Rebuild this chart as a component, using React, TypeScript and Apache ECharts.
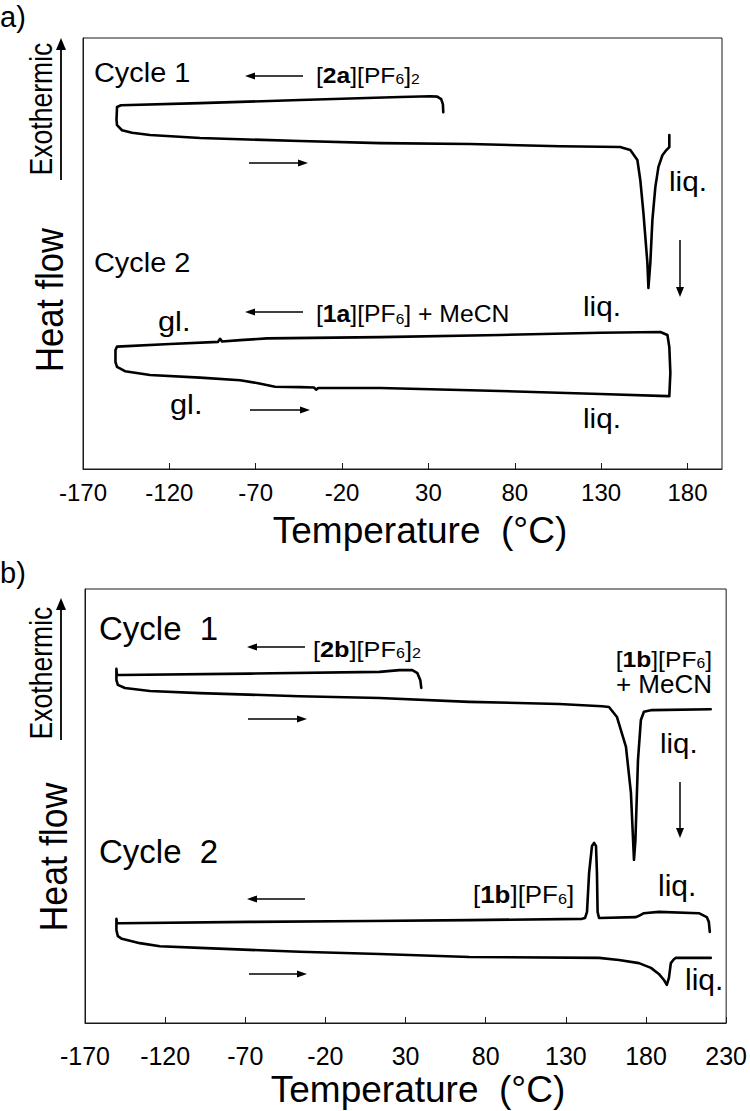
import React, { useEffect, useRef } from 'react';
import * as echarts from 'echarts';

const FONT = '"Liberation Sans", Arial, Helvetica, sans-serif';

// Temperature axes (°C)
const xRangeA = [-170, 200];
const xRangeB = [-170, 230];
const tickStep = 50;
// Heat flow (arbitrary units, exothermic up)
const yRange = [0, 100];

// Panel a) – cycle 1: cooling from ~38 °C to -150 °C, then heating to 170 °C
const cycle1A: number[][] = [
  [38.6, 82.8], [38.4, 84.6], [37.4, 85.8], [35.1, 86.4], [31.1, 86.5], [13.7, 86.3],
  [-44.3, 85.6], [-102.2, 84.9], [-148, 84.4], [-150.3, 84.0], [-150.6, 81.0], [-150.3, 79.8],
  [-147.4, 78.6], [-141.6, 78.0], [-131.2, 77.5], [-102.2, 76.8], [-44.3, 76.1], [2.1, 75.6],
  [54.2, 75.4], [106.4, 74.9], [141.1, 74.7], [142.9, 74.5], [146.9, 74.0], [151.0, 71.7],
  [152.7, 67.0], [154.5, 59.4], [156.8, 47.8], [157.4, 42.0], [158.5, 47.8], [159.7, 57.8],
  [161.4, 65.4], [163.2, 70.1], [165.5, 72.8], [167.8, 74.0], [169.5, 74.7], [169.5, 77.5],
];

// Panel a) – cycle 2: cooling from 170 °C to -150 °C (glass), heating back to 170 °C
const cycle2A: number[][] = [
  [169.5, 16.9], [170.1, 22.3], [169.5, 28.3], [168.4, 31.1], [164.3, 31.8], [129.6, 31.6],
  [71.6, 31.1], [2.1, 30.6], [-63.4, 30.3], [-79.0, 29.9], [-89.5, 29.6], [-90.6, 30.2],
  [-91.8, 29.5], [-119.6, 29.0], [-150.3, 28.4], [-151.2, 27.6], [-151.2, 24.8], [-150.3, 23.7],
  [-145.7, 22.7], [-131.2, 21.8], [-102.2, 21.2], [-79.0, 20.6], [-68.6, 19.9], [-58.8, 19.1],
  [-44.3, 19.0], [-36.2, 18.9], [-35.0, 18.4], [-33.8, 18.8], [2.1, 18.8], [71.6, 18.1],
  [129.6, 17.4], [168.4, 16.9], [169.5, 16.9],
];

// Panel b) – cycle 1: cooling from 40 °C to -150 °C, then heating to 220 °C
const cycle1B: number[][] = [
  [39.8, 77.2], [39.2, 79.0], [37.4, 80.6], [34.2, 81.3], [26.2, 81.3], [13.7, 80.9],
  [-67.3, 80.5], [-148.2, 80.2], [-150.1, 80.2], [-150.4, 81.6], [-150.4, 79.0], [-149.5, 77.9],
  [-145.1, 77.2], [-129.5, 76.5], [-98.4, 76.0], [-36.1, 75.3], [13.7, 74.9], [69.7, 74.0],
  [125.8, 73.5], [152.6, 73.0], [156.9, 72.8], [161.9, 70.5], [167.5, 63.6], [170.6, 53.0],
  [172.5, 37.6], [173.4, 42.2], [175.0, 60.6], [176.8, 69.8], [178.7, 71.7], [183.7, 72.1],
  [220.4, 72.3],
];

// Panel b) – cycle 2: cooling from 220 °C (crystallisation ~147 °C) to -150 °C, heating to 220 °C
const cycle2B: number[][] = [
  [219.8, 21.0], [219.2, 23.3], [217.9, 24.4], [213.0, 25.3], [188.0, 25.6], [178.7, 25.3],
  [175.6, 24.7], [173.7, 24.4], [150.7, 24.2], [149.8, 25.6], [149.4, 34.6], [148.8, 40.8],
  [147.6, 41.5], [146.3, 40.8], [144.5, 34.6], [143.2, 25.6], [142.0, 24.2], [140.1, 24.0],
  [69.7, 23.7], [7.5, 23.5], [-67.3, 23.3], [-148.2, 23.0], [-150.1, 23.0], [-150.4, 24.0],
  [-150.4, 21.4], [-149.5, 20.0], [-147.0, 19.4], [-135.8, 18.4], [-123.3, 17.7], [-98.4, 17.3],
  [-36.1, 16.4], [13.7, 15.9], [69.7, 15.2], [150.7, 15.0], [163.1, 14.5], [175.6, 13.8],
  [183.1, 12.7], [188.0, 11.3], [191.2, 9.9], [193.0, 8.8], [194.3, 10.4], [195.5, 13.8],
  [197.4, 14.7], [198.6, 15.0], [220.4, 15.0],
];

const INK = '#000';

function txt(x: number, baseline: number, text: string, size: number, opts: any = {}) {
  const { sx = 1, align = 'left', weight = 'normal' } = opts;
  return {
    type: 'text',
    x,
    y: baseline - 0.35 * size,
    scaleX: sx,
    silent: true,
    style: {
      text,
      fill: INK,
      fontSize: size,
      fontFamily: FONT,
      fontWeight: weight,
      align,
      verticalAlign: 'middle',
    },
  };
}

function chem(x: number, baseline: number, text: string, size: number, opts: any = {}) {
  const { sx = 1, align = 'left' } = opts;
  const sub = Math.round(size * 0.64);
  return {
    type: 'text',
    x,
    y: baseline - 0.35 * size,
    scaleX: sx,
    silent: true,
    style: {
      text,
      fill: INK,
      fontSize: size,
      fontFamily: FONT,
      align,
      verticalAlign: 'middle',
      rich: {
        b: { fontSize: size, fontFamily: FONT, fontWeight: 'bold', fill: INK },
        s: { fontSize: sub, fontFamily: FONT, fill: INK, verticalAlign: 'bottom' },
      },
    },
  };
}

function rotTxt(x: number, y: number, text: string, size: number, sx: number) {
  return {
    type: 'text',
    x,
    y,
    rotation: Math.PI / 2,
    scaleX: sx,
    silent: true,
    style: {
      text,
      fill: INK,
      fontSize: size,
      fontFamily: FONT,
      align: 'center',
      verticalAlign: 'middle',
    },
  };
}

// horizontal arrow: from xs to tip xt
function hArrow(xs: number, xt: number, y: number) {
  const d = xt > xs ? 1 : -1;
  const hl = 10;
  const hw = 3.5;
  return [
    { type: 'line', silent: true, shape: { x1: xs, y1: y, x2: xt - d * hl * 0.7, y2: y }, style: { stroke: INK, lineWidth: 1.5 } },
    { type: 'polygon', silent: true, shape: { points: [[xt, y], [xt - d * hl, y - hw], [xt - d * hl, y + hw]] }, style: { fill: INK } },
  ];
}

function vArrow(x: number, ys: number, yt: number, hl = 10, hw = 4, lw = 1.5) {
  const d = yt > ys ? 1 : -1;
  return [
    { type: 'line', silent: true, shape: { x1: x, y1: ys, x2: x, y2: yt - d * hl * 0.7 }, style: { stroke: INK, lineWidth: lw } },
    { type: 'polygon', silent: true, shape: { points: [[x, yt], [x - hw, yt - d * hl], [x + hw, yt - d * hl]] }, style: { fill: INK } },
  ];
}

function xAxisCfg(grid: number, range: number[], fontSize: number, margin: number, showMax: boolean) {
  return {
    gridIndex: grid,
    type: 'value',
    min: range[0],
    max: range[1],
    interval: tickStep,
    axisLine: { show: true, onZero: false, lineStyle: { color: '#1a1a1a', width: 1 } },
    axisTick: { show: true, inside: true, length: 6, lineStyle: { color: '#1a1a1a', width: 1 } },
    axisLabel: { color: INK, fontSize, fontFamily: FONT, margin, showMaxLabel: showMax, showMinLabel: true },
    splitLine: { show: false },
  };
}

function yAxisCfg(grid: number) {
  return {
    gridIndex: grid,
    type: 'value',
    min: yRange[0],
    max: yRange[1],
    axisLine: { show: true, onZero: false, lineStyle: { color: '#1a1a1a', width: 1 } },
    axisTick: { show: false },
    axisLabel: { show: false },
    splitLine: { show: false },
  };
}

function lineSeries(data: number[][], idx: number) {
  return {
    type: 'line',
    xAxisIndex: idx,
    yAxisIndex: idx,
    data,
    showSymbol: false,
    symbol: 'none',
    smooth: false,
    silent: true,
    lineStyle: { color: INK, width: 2.6, join: 'round', cap: 'round' },
  };
}

export default function App() {
  const ref = useRef<HTMLDivElement>(null);
  useEffect(() => {
    document.body.style.margin = '0';
    if (!ref.current) return;
    const chart = echarts.init(ref.current, undefined, { renderer: 'svg' });
    const graphic: any[] = [
      // ---- panel a ----
      txt(0, 27, 'a)', 29),
      rotTxt(41, 109, 'Exothermic', 32, 0.83),
      ...vArrow(61, 180, 38, 12, 5, 1.8),
      rotTxt(50, 300, 'Heat flow', 38, 0.91),
      txt(94, 82, 'Cycle 1', 27, { sx: 1.07 }),
      ...hArrow(303, 245, 76),
      chem(316, 83, '[{b|2a}][PF{s|6}]{s|2}', 22, { sx: 1.12 }),
      ...hArrow(249, 308, 163),
      txt(669, 191, 'liq.', 27, { sx: 1.1 }),
      ...vArrow(680, 240, 297),
      txt(94, 272, 'Cycle 2', 27, { sx: 1.07 }),
      txt(158, 331, 'gl.', 28, { sx: 1.1 }),
      ...hArrow(303, 245, 312),
      chem(316, 322, '[{b|1a}][PF{s|6}] + MeCN', 24, { sx: 1.03 }),
      txt(583, 316, 'liq.', 27, { sx: 1.1 }),
      txt(170, 414, 'gl.', 28, { sx: 1.1 }),
      ...hArrow(250, 310, 410),
      txt(583, 428, 'liq.', 27, { sx: 1.1 }),
      txt(420, 543, 'Temperature  (°C)', 37, { align: 'center' }),
      // ---- panel b ----
      txt(0, 583, 'b)', 29),
      rotTxt(41, 673, 'Exothermic', 32, 0.83),
      ...vArrow(61, 740, 598, 12, 5, 1.8),
      rotTxt(54, 857, 'Heat flow', 38, 0.94),
      txt(99, 640, 'Cycle  1', 33),
      ...hArrow(305, 247, 647),
      chem(313, 657, '[{b|2b}][PF{s|6}]{s|2}', 22, { sx: 1.15 }),
      ...hArrow(248, 307, 719),
      chem(712, 667, '[{b|1b}][PF{s|6}]', 22, { sx: 1.12, align: 'right' }),
      txt(712, 693, '+ MeCN', 26, { align: 'right' }),
      txt(660, 753, 'liq.', 28, { sx: 1.05 }),
      ...vArrow(680, 782, 838),
      txt(99, 863, 'Cycle  2', 33),
      ...hArrow(305, 247, 899),
      chem(473, 903, '[{b|1b}][PF{s|6}]', 24, { sx: 1.08 }),
      txt(658, 896, 'liq.', 30),
      ...hArrow(249, 307, 974),
      txt(685, 990, 'liq.', 30),
      txt(418, 1102, 'Temperature  (°C)', 37, { align: 'center' }),
    ];

    chart.setOption({
      animation: false,
      backgroundColor: '#fff',
      grid: [
        { left: 83, top: 38, width: 639, height: 431, show: true, borderColor: '#1a1a1a', borderWidth: 1 },
        { left: 85, top: 589, width: 642, height: 434, show: true, borderColor: '#1a1a1a', borderWidth: 1 },
      ],
      xAxis: [xAxisCfg(0, xRangeA, 24, 11, false), xAxisCfg(1, xRangeB, 25, 20, true)],
      yAxis: [yAxisCfg(0), yAxisCfg(1)],
      series: [
        lineSeries(cycle1A, 0),
        lineSeries(cycle2A, 0),
        lineSeries(cycle1B, 1),
        lineSeries(cycle2B, 1),
      ],
      graphic,
    });
    return () => chart.dispose();
  }, []);
  return <div ref={ref} style={{ width: 750, height: 1111 }} />;
}
